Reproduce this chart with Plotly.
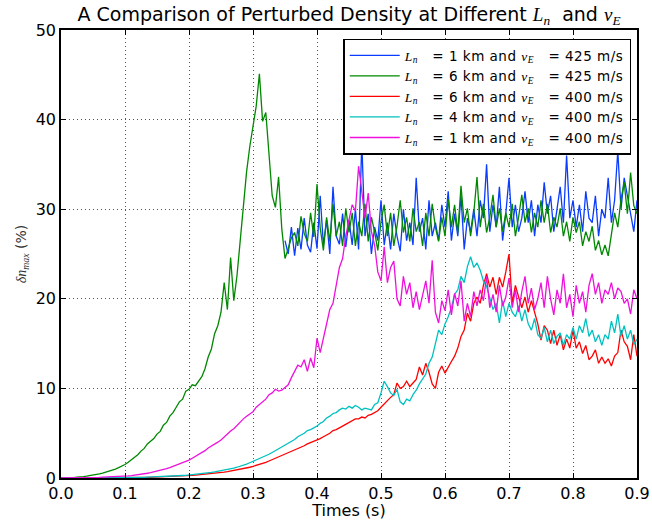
import plotly.graph_objects as go

# time grid (s), 0.005 s spacing
TIME = [round(i * 0.005, 3) for i in range(181)]
BLUE_START = 70  # blue series begins at t = 0.35 s

# L_n = 1 km, v_E = 425 m/s (from t = 0.35 s)
blue_425_1km = [
    26.5, 25.0, 28.0, 24.8, 27.9, 25.5, 29.0, 26.0, 25.2, 28.5,
    25.6, 31.5, 26.0, 28.8, 25.0, 32.5, 27.0, 26.1, 29.5, 25.8,
    28.8, 26.0, 30.0, 25.5, 37.5, 27.0, 29.5, 25.0, 28.0, 26.5,
    31.0, 26.0, 28.5, 25.5, 29.5, 27.0, 25.3, 30.0, 26.5, 28.5,
    26.0, 33.5, 27.5, 29.0, 25.5, 31.0, 27.0, 28.5, 26.5, 30.5,
    28.0, 32.0, 26.5, 29.5, 27.0, 31.5, 25.5, 29.0, 27.5, 30.0,
    27.0, 31.0, 29.0, 35.0, 27.5, 30.5, 28.0, 32.5, 26.5, 29.5,
    33.5, 28.0, 30.5, 27.5, 29.0, 32.0, 28.5, 31.0, 27.0, 30.5,
    28.5, 33.0, 29.5, 31.5, 27.5, 30.0, 32.5, 28.5, 36.0, 29.0,
    31.0, 28.0, 30.5, 27.5, 32.0, 29.0, 28.5, 31.5, 27.0, 30.0,
    29.0, 33.5, 28.5, 31.0, 36.5, 30.0, 33.5, 31.5, 29.5, 27.5,
    31.0,
]

# L_n = 6 km, v_E = 425 m/s
green_425_6km = [
    0.0, 0.0, 0.0, 0.05, 0.05, 0.1, 0.1, 0.15, 0.2, 0.25,
    0.3, 0.35, 0.45, 0.55, 0.65, 0.75, 0.85, 1.0, 1.15, 1.3,
    1.5, 1.75, 2.0, 2.3, 2.6, 3.0, 3.3, 3.8, 4.1, 4.4,
    4.9, 5.2, 5.9, 6.2, 6.9, 7.3, 7.9, 8.5, 8.8, 9.7,
    9.9, 10.4, 10.3, 10.8, 11.3, 12.2, 13.5, 14.4, 16.1, 17.0,
    18.5, 21.8, 18.8, 24.6, 19.8, 22.6, 26.5, 29.8, 34.2, 37.0,
    39.5, 41.5, 45.1, 39.8, 40.8, 35.8, 31.5, 30.2, 33.6, 27.8,
    24.5, 25.6, 26.8, 27.4, 25.9, 29.2, 27.3, 26.4, 29.6, 26.9,
    32.8, 27.9, 25.4, 29.1, 26.4, 30.6, 27.0, 28.6, 25.9, 30.1,
    27.4, 29.6, 25.9, 28.6, 27.0, 30.6, 26.4, 29.1, 27.5, 25.4,
    28.6, 30.5, 27.0, 29.6, 25.9, 28.1, 31.0, 27.4, 29.1, 26.4,
    30.1, 27.5, 28.6, 25.9, 29.6, 27.0, 30.6, 28.0, 26.4, 29.1,
    27.0, 31.1, 28.0, 30.5, 27.4, 32.6, 28.5, 30.1, 27.0, 29.6,
    33.6, 28.0, 30.6, 27.4, 29.1, 31.6, 28.0, 30.1, 27.5, 29.6,
    28.0, 30.6, 27.0, 29.1, 31.6, 28.5, 30.1, 27.4, 29.6, 28.0,
    31.0, 28.5, 30.6, 27.4, 29.1, 28.0, 30.1, 27.0, 28.6, 26.4,
    29.1, 27.4, 28.6, 25.9, 27.5, 26.4, 28.1, 25.4, 26.5, 24.9,
    26.0, 24.8, 27.1, 29.6, 28.0, 31.1, 33.0, 29.5, 34.1, 30.4,
    29.5,
]

# L_n = 6 km, v_E = 400 m/s
red_400_6km = [
    0.0, 0.0, 0.0, 0.0, 0.0, 0.0, 0.0, 0.0, 0.0, 0.0,
    0.0, 0.0, 0.0, 0.0, 0.0, 0.01, 0.01, 0.01, 0.02, 0.02,
    0.02, 0.03, 0.03, 0.04, 0.05, 0.05, 0.06, 0.07, 0.08, 0.09,
    0.1, 0.11, 0.12, 0.14, 0.15, 0.17, 0.18, 0.2, 0.22, 0.24,
    0.26, 0.29, 0.31, 0.34, 0.37, 0.4, 0.44, 0.48, 0.52, 0.56,
    0.6, 0.65, 0.7, 0.76, 0.82, 0.88, 0.95, 1.03, 1.11, 1.2,
    1.3, 1.4, 1.5, 1.62, 1.75, 1.9, 2.05, 2.2, 2.35, 2.5,
    2.65, 2.8, 2.95, 3.1, 3.3, 3.45, 3.6, 3.8, 3.95, 4.1,
    4.2, 4.4, 4.6, 4.8, 5.0, 5.3, 5.4, 5.6, 5.8, 6.0,
    6.2, 6.4, 6.6, 6.6, 6.8, 6.7, 7.0, 7.1, 7.3, 7.5,
    7.9, 8.3, 8.6, 9.0, 9.3, 10.6, 10.0, 10.2, 10.8, 10.2,
    10.6, 11.0, 12.4, 11.5, 12.8, 11.8, 10.5, 10.0, 11.8, 12.5,
    11.7, 12.4, 13.0, 13.6, 14.5, 15.8, 16.5, 18.4, 17.5, 19.5,
    20.2, 19.5, 21.5, 22.8, 21.3, 22.4, 20.5, 22.4, 21.3, 23.0,
    25.0, 19.5, 21.5, 20.2, 19.0, 20.2, 18.5, 19.8, 18.4, 17.2,
    15.4, 17.0, 16.5, 15.0, 16.5, 14.8, 16.0, 14.3, 15.5, 14.5,
    16.5, 14.5, 15.2, 13.9, 14.8, 13.2, 13.6, 14.3, 12.8, 13.5,
    12.8, 13.3, 12.5, 13.6, 14.0, 16.5, 15.2, 14.7, 13.2, 16.0,
    13.6,
]

# L_n = 4 km, v_E = 400 m/s
cyan_400_4km = [
    0.0, 0.0, 0.0, 0.0, 0.0, 0.0, 0.0, 0.0, 0.0, 0.0,
    0.0, 0.0, 0.0, 0.0, 0.01, 0.01, 0.01, 0.02, 0.02, 0.03,
    0.03, 0.04, 0.05, 0.05, 0.06, 0.07, 0.08, 0.09, 0.1, 0.11,
    0.12, 0.14, 0.15, 0.17, 0.19, 0.21, 0.23, 0.25, 0.28, 0.3,
    0.33, 0.36, 0.4, 0.44, 0.48, 0.52, 0.57, 0.62, 0.68, 0.74,
    0.8, 0.87, 0.94, 1.02, 1.1, 1.2, 1.3, 1.42, 1.55, 1.7,
    1.85, 2.0, 2.15, 2.3, 2.5, 2.65, 2.85, 3.05, 3.3, 3.5,
    3.7, 3.9, 4.1, 4.3, 4.6, 4.8, 5.0, 5.3, 5.4, 5.6,
    5.8, 6.1, 6.3, 6.7, 6.9, 7.2, 7.3, 7.6, 7.8, 7.7,
    8.0, 7.8, 8.1, 7.9, 7.6, 7.8, 7.7, 7.6, 8.2, 8.4,
    9.5, 10.8, 10.2, 9.5, 9.2, 9.9, 8.5, 8.2, 8.8, 8.6,
    9.3, 9.8, 10.5, 11.0, 11.6, 12.8, 13.5, 15.0, 16.5, 16.0,
    17.2, 18.0, 19.0, 20.5, 21.0, 22.5, 21.8, 23.6, 24.7, 23.5,
    24.0, 23.2, 22.0, 21.4, 20.0, 18.8, 19.5, 17.3, 19.8, 18.0,
    19.5, 18.5, 18.0, 19.2, 17.5, 18.8, 17.2, 16.5, 17.8, 16.0,
    15.6, 16.8, 15.2, 16.5, 15.0, 15.8, 16.2, 14.8, 16.0, 15.5,
    16.8, 15.5, 17.0, 16.2, 17.8, 15.8, 16.5, 15.2, 16.0, 14.8,
    16.0, 15.5, 17.5, 16.2, 18.3, 15.8, 17.0, 15.5, 16.5, 14.9,
    15.5,
]

# L_n = 1 km, v_E = 400 m/s
magenta_400_1km = [
    0.0, 0.0, 0.0, 0.0, 0.0, 0.0, 0.0, 0.02, 0.03, 0.04,
    0.05, 0.06, 0.07, 0.09, 0.1, 0.12, 0.14, 0.16, 0.18, 0.19,
    0.2, 0.23, 0.27, 0.31, 0.36, 0.41, 0.47, 0.53, 0.6, 0.68,
    0.76, 0.85, 0.95, 1.05, 1.17, 1.3, 1.44, 1.58, 1.72, 1.86,
    2.0, 2.2, 2.4, 2.6, 2.85, 3.05, 3.35, 3.55, 3.8, 4.0,
    4.25, 4.6, 4.9, 5.25, 5.5, 5.9, 6.2, 6.6, 6.9, 7.2,
    7.4, 7.9, 8.2, 8.5, 8.8, 9.3, 9.5, 9.9, 9.7, 9.8,
    10.1, 10.4, 11.2, 12.0, 12.6, 12.4, 13.2, 11.9, 13.4, 12.3,
    15.6, 14.0, 15.5, 17.2, 18.8, 19.5, 21.4, 23.5, 24.5, 27.0,
    28.8, 30.5, 29.8, 34.8, 32.0, 29.0, 31.8, 27.5, 26.0, 23.0,
    22.0, 25.8, 21.8, 23.5, 24.2, 20.0, 19.2, 22.5, 20.5, 21.8,
    19.0, 20.8, 18.8, 20.6, 22.0, 19.5, 24.3, 18.5, 17.3, 19.8,
    18.7, 21.0, 18.2, 20.6, 19.2, 22.0, 17.5, 19.5, 18.0, 20.8,
    19.2, 21.0, 19.8, 22.5, 19.0, 20.5, 18.5, 21.5, 19.2, 20.2,
    22.3, 19.0, 21.0, 18.5, 20.8, 22.5, 19.5, 21.2, 18.8, 20.0,
    21.8, 19.0, 22.5, 20.0, 18.2, 21.0, 19.5, 22.8, 19.0, 20.5,
    18.0, 21.5, 19.5, 20.8, 18.5, 21.5, 22.8, 20.5, 21.8, 19.5,
    21.0, 20.5, 21.8, 20.0, 21.2, 20.8, 19.5, 20.0, 18.3, 21.0,
    20.0,
]

X_TICKS = [0.0, 0.1, 0.2, 0.3, 0.4, 0.5, 0.6, 0.7, 0.8, 0.9]
Y_TICKS = [0, 10, 20, 30, 40, 50]

SERIF = "font-family:'Liberation Serif'"
NB = "\u00a0"


def math(sym, sub):
    return f"<span style=\"{SERIF}\"><i>{sym}</i><sub><i>{sub}</i></sub></span>"


def label(ln, ve):
    return (f"<span style=\"letter-spacing:0.5px\">{math('L', 'n')}{NB * 2} = {ln} km and "
            f"{math('v', 'E')}{NB * 2} = {ve} m/s</span>")


series = [
    (TIME[BLUE_START:], blue_425_1km, "#0a3cff", label(1, 425)),
    (TIME, green_425_6km, "#008800", label(6, 425)),
    (TIME, red_400_6km, "#ff0000", label(6, 400)),
    (TIME, cyan_400_4km, "#00c0c0", label(4, 400)),
    (TIME, magenta_400_1km, "#ee11dd", label(1, 400)),
]

fig = go.Figure()
for xs, ys, col, name in series:
    fig.add_trace(go.Scatter(x=xs, y=ys, mode="lines", name=name,
                             line=dict(color=col, width=1.3)))

FONT = "DejaVu Sans"
axis_common = dict(
    showline=True, linecolor="black", linewidth=1.6, mirror="allticks",
    ticks="inside", ticklen=5, tickwidth=1, tickcolor="black",
    showgrid=True, gridcolor="#555555", gridwidth=1, griddash="1px,3px",
    zeroline=False, automargin=False,
    tickfont=dict(family=FONT, size=16, color="black"),
)

fig.update_layout(
    width=652, height=520,
    margin=dict(l=61, r=15, t=30, b=42),
    paper_bgcolor="white", plot_bgcolor="white",
    title=dict(
        text=("A Comparison of Perturbed Density at Different "
              f"{math('L', 'n')}{NB} and {math('v', 'E')}"),
        x=(61 + 637) / 2 / 652, xanchor="center", y=0.972, yanchor="middle",
        font=dict(family=FONT, size=19, color="black"),
    ),
    xaxis=dict(range=[0, 0.9], tickvals=X_TICKS, tickformat=".1f",
               title=dict(text="Times (s)", font=dict(family=FONT, size=16, color="black"),
                          standoff=3),
               **axis_common),
    yaxis=dict(range=[0, 50], tickvals=Y_TICKS,
               title=dict(text=f"<span style=\"{SERIF}\"><i>δn</i><sub><i>max</i></sub></span> (%)",
                          font=dict(family=FONT, size=14, color="#333333"), standoff=6),
               **axis_common),
    legend=dict(
        x=0.99, xanchor="right", y=0.981, yanchor="top",
        bgcolor="white", bordercolor="black", borderwidth=1.5,
        font=dict(family=FONT, size=13.5, color="black"),
        tracegroupgap=0, itemwidth=50,
    ),
    showlegend=True,
)

fig.write_html("out.html")
